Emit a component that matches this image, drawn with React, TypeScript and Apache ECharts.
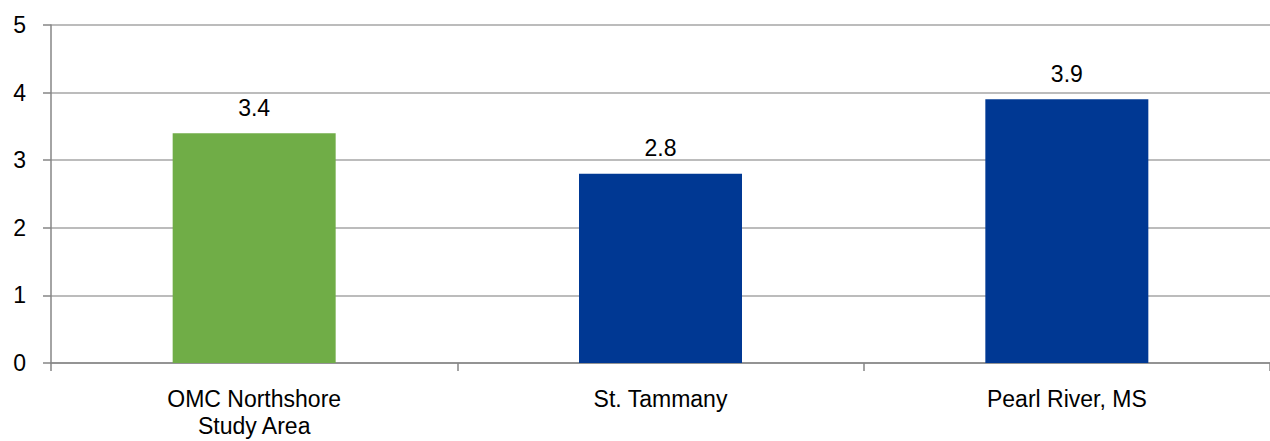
import React, { useEffect, useRef } from "react";
import * as echarts from "echarts";

const categories = ["OMC Northshore\nStudy Area", "St. Tammany", "Pearl River, MS"];
const values = [3.4, 2.8, 3.9];
const barColors = ["#70AD47", "#003893", "#003893"];

export default function App() {
  const ref = useRef<HTMLDivElement>(null);
  useEffect(() => {
    if (!ref.current) return;
    const chart = echarts.init(ref.current, null, { renderer: "svg" });
    const font = "Liberation Sans, Arial, sans-serif";
    chart.setOption({
      animation: false,
      backgroundColor: "#ffffff",
      grid: { left: 51, right: 0, top: 25, height: 338, containLabel: false },
      xAxis: {
        type: "category",
        data: categories,
        axisLine: { show: true, lineStyle: { color: "#868686", width: 1.5 } },
        axisTick: { show: true, length: 8, interval: 0, lineStyle: { color: "#868686", width: 1.5 } },
        axisLabel: { color: "#000", fontSize: 23, fontFamily: font, lineHeight: 27, margin: 22, interval: 0 },
      },
      yAxis: {
        type: "value",
        min: 0,
        max: 5,
        interval: 1,
        axisLine: { show: true, lineStyle: { color: "#868686", width: 1.5 } },
        axisTick: { show: true, length: 8, lineStyle: { color: "#868686", width: 1.5 } },
        axisLabel: { color: "#000", fontSize: 23, fontFamily: font, margin: 25 },
        splitLine: { show: true, lineStyle: { color: "#a6a6a6", width: 1.5 } },
      },
      series: [
        {
          type: "bar",
          data: values.map((v, i) => ({ value: v, itemStyle: { color: barColors[i] } })),
          barWidth: 163,
          label: {
            show: true,
            position: "top",
            distance: 14,
            color: "#000",
            fontSize: 23,
            fontFamily: font,
            formatter: (p: any) => p.value.toFixed(1),
          },
        },
      ],
    });
    return () => chart.dispose();
  }, []);
  return (
    <div
      ref={ref}
      style={{ position: "fixed", left: 0, top: 0, width: 1270, height: 441 }}
    />
  );
}
